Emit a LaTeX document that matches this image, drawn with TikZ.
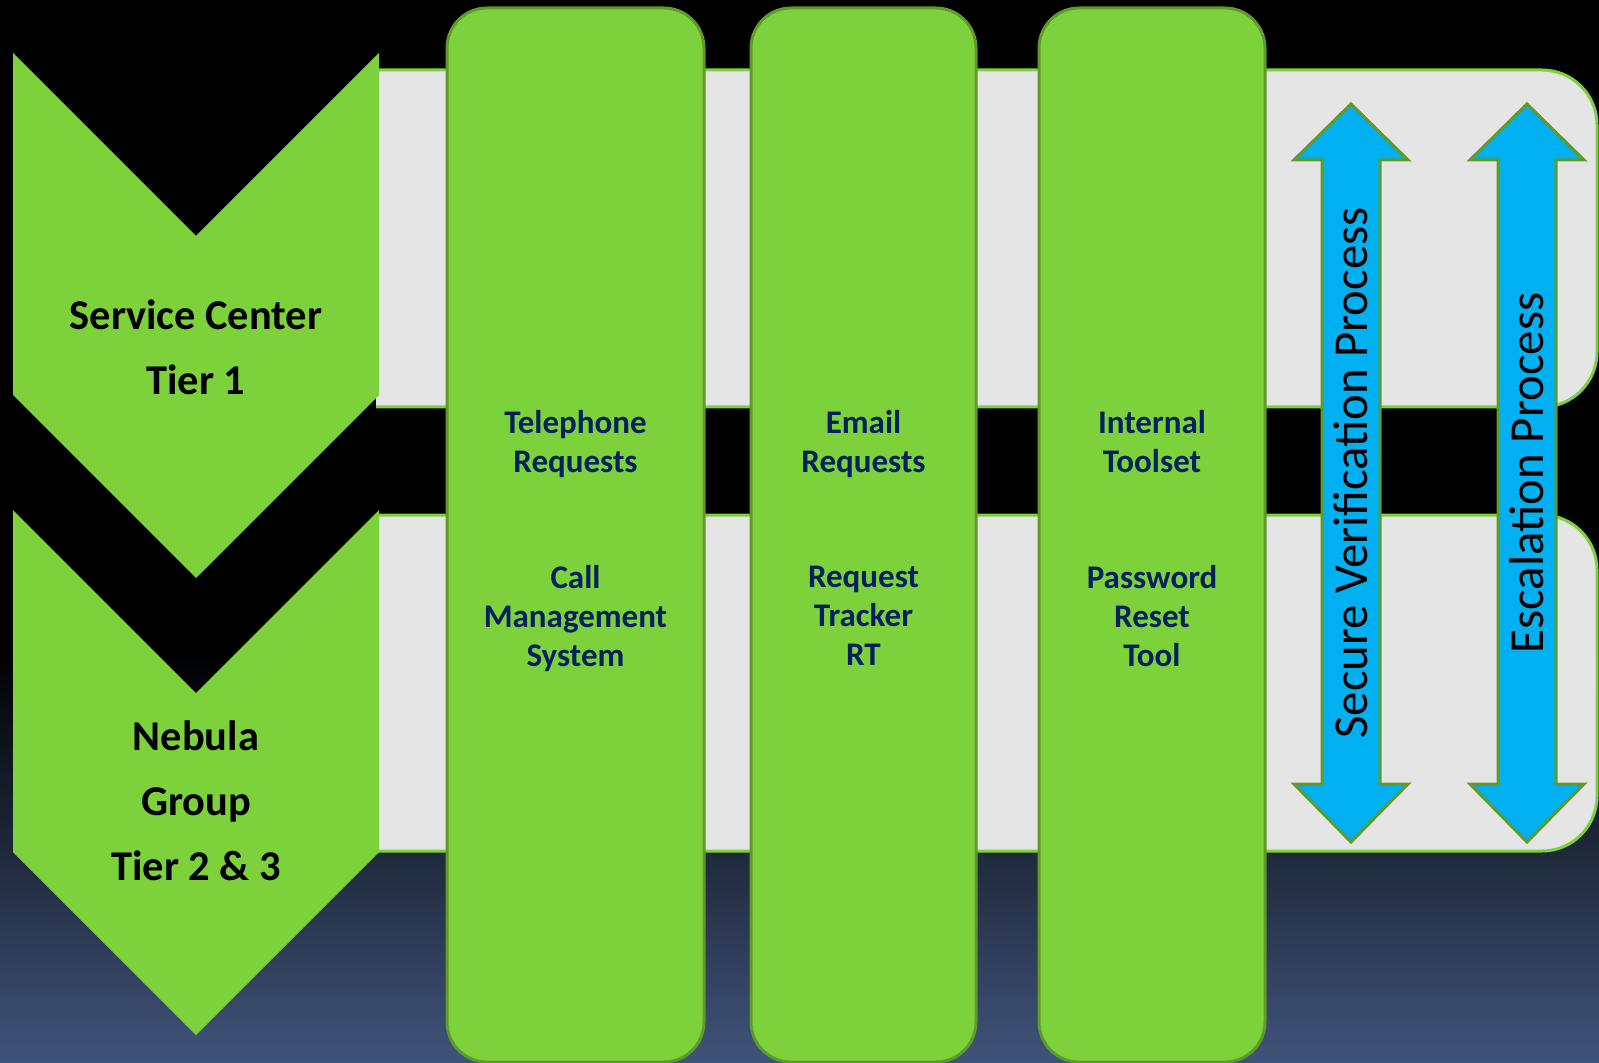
\documentclass[tikz,border=0pt]{standalone}
\usepackage{fontspec}
\setmainfont{Carlito}
\usetikzlibrary{positioning}
\definecolor{chevgreen}{RGB}{125,209,59}
\definecolor{edgegreen}{RGB}{96,154,42}
\definecolor{bargray}{RGB}{229,229,229}
\definecolor{arrowcyan}{RGB}{0,176,240}
\definecolor{textnavy}{RGB}{0,32,96}
\definecolor{bgblue}{RGB}{64,84,122}

\begin{document}
\begin{tikzpicture}[x=0.5pt,y=-0.5pt,
  tierbar/.style={fill=bargray,draw=chevgreen,line width=1.5pt,rounded corners=27.5pt},
  chevron/.style={fill=chevgreen},
  column/.style={fill=chevgreen,draw=edgegreen,line width=1.5pt,rounded corners=20pt},
  flow/.style={fill=arrowcyan,draw=edgegreen,line width=1.5pt},
  struts/.style={execute at begin node=\strut,execute at end node=\strut},
  tierlabel/.style={font=\bfseries\fontsize{21.2}{32.5}\selectfont,align=center,struts},
  toollabel/.style={font=\bfseries\fontsize{16.5}{19.5}\selectfont,text=textnavy,align=center,struts},
  flowlabel/.style={font=\fontsize{24.4}{29}\selectfont,rotate=90}]
\useasboundingbox (0,0) rectangle (1599,1063);
% background
\fill[black] (0,0) rectangle (1599,1063);
\shade[top color=black,bottom color=bgblue] (0,650) rectangle (1599,1063);
% the two tier bars
\draw[tierbar] (376,70) -- (1597,70) -- (1597,407) -- (376,407);
\draw[tierbar] (376,515) -- (1597,515) -- (1597,851) -- (376,851);
% chevrons
\foreach \ytop in {53,510}
  \fill[chevron] (13,\ytop) -- (196,\ytop+183) -- (379,\ytop) -- (379,\ytop+342)
    -- (196,\ytop+525) -- (13,\ytop+342) -- cycle;
\node[tierlabel] (tier1) at (196,357) {Service Center\\Tier 1};
\node[tierlabel] (tier23) at (196,810) {Nebula\\Group\\Tier 2 \& 3};
% tool columns
\foreach \xl/\xr/\tname/\ttop/\tbot in {
    447/704/phone/{Telephone\\Requests}/{Call\\Management\\System},
    751/976/email/{Email\\Requests}/{Request\\Tracker\\RT},
    1039/1265/tools/{Internal\\Toolset}/{Password\\Reset\\Tool}} {
  \draw[column] (\xl,8) rectangle (\xr,1062);
  \node[toollabel] (\tname-in) at ({(\xl+\xr)/2},447) {\ttop};
  \node[toollabel] (\tname-sys) at ({(\xl+\xr)/2},622) {\tbot};
}
% process arrows
\foreach \cx/\tname/\txt in {1351/verify/Secure Verification Process,
    1527/escalate/Escalation Process} {
  \draw[flow] (\cx,104) -- (\cx+57,160) -- (\cx+29,160) -- (\cx+29,784)
    -- (\cx+57,784) -- (\cx,842) -- (\cx-57,784) -- (\cx-29,784)
    -- (\cx-29,160) -- (\cx-57,160) -- cycle;
  \node[flowlabel] (\tname) at (\cx,473) {\txt};
}
\end{tikzpicture}
\end{document}
